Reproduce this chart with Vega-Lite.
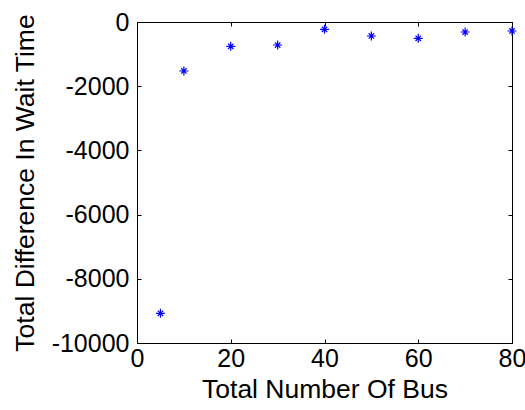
{
  "$schema": "https://vega.github.io/schema/vega-lite/v6.json",
  "width": 375,
  "height": 321,
  "autosize": "none",
  "padding": {"left": 137, "top": 22, "right": 13, "bottom": 67},
  "background": "white",
  "config": {
    "view": {"stroke": "black", "strokeWidth": 1},
    "axis": {
      "font": "Liberation Sans",
      "labelFont": "Liberation Sans",
      "titleFont": "Liberation Sans",
      "labelFontSize": 25,
      "titleFontSize": 26.5,
      "titleFontWeight": "normal",
      "labelColor": "black",
      "titleColor": "black",
      "domainColor": "black",
      "tickColor": "black",
      "grid": false,
      "tickSize": -4,
      "labelOverlap": false,
      "labelFlush": false,
      "labelBound": false
    }
  },
  "data": {
    "values": [
      {"bus": 5, "diff": -9075},
      {"bus": 10, "diff": -1526},
      {"bus": 20, "diff": -757},
      {"bus": 30, "diff": -717},
      {"bus": 40, "diff": -228},
      {"bus": 50, "diff": -436},
      {"bus": 60, "diff": -509},
      {"bus": 70, "diff": -312},
      {"bus": 80, "diff": -280}
    ]
  },
  "layer": [
    {
      "mark": {
        "type": "point",
        "shape": "M-1,0H1M0,-1V1M-0.6,-0.6L0.6,0.6M-0.6,0.6L0.6,-0.6",
        "filled": false,
        "stroke": "#0000ff",
        "strokeWidth": 1.2,
        "size": 81,
        "opacity": 1,
        "clip": false
      },
      "encoding": {
        "x": {
          "field": "bus",
          "type": "quantitative",
          "scale": {"domain": [0, 80], "nice": false, "zero": false},
          "axis": {"orient": "bottom", "values": [0, 20, 40, 60, 80], "title": "Total Number Of Bus", "labelPadding": 7, "titlePadding": 5}
        },
        "y": {
          "field": "diff",
          "type": "quantitative",
          "scale": {"domain": [-10000, 0], "nice": false, "zero": false},
          "axis": {"orient": "left", "values": [-10000, -8000, -6000, -4000, -2000, 0], "labelExpr": "'' + datum.value", "title": "Total Difference In Wait Time", "labelPadding": 12, "titlePadding": 12}
        }
      }
    },
    {
      "mark": {"type": "point", "opacity": 0},
      "encoding": {
        "x": {
          "field": "bus",
          "type": "quantitative",
          "scale": {"domain": [0, 80], "nice": false, "zero": false},
          "axis": {"orient": "top", "values": [0, 20, 40, 60, 80], "labels": false, "title": null}
        },
        "y": {
          "field": "diff",
          "type": "quantitative",
          "scale": {"domain": [-10000, 0], "nice": false, "zero": false},
          "axis": {"orient": "right", "values": [-10000, -8000, -6000, -4000, -2000, 0], "labels": false, "title": null}
        }
      }
    }
  ],
  "resolve": {"axis": {"x": "independent", "y": "independent"}}
}
